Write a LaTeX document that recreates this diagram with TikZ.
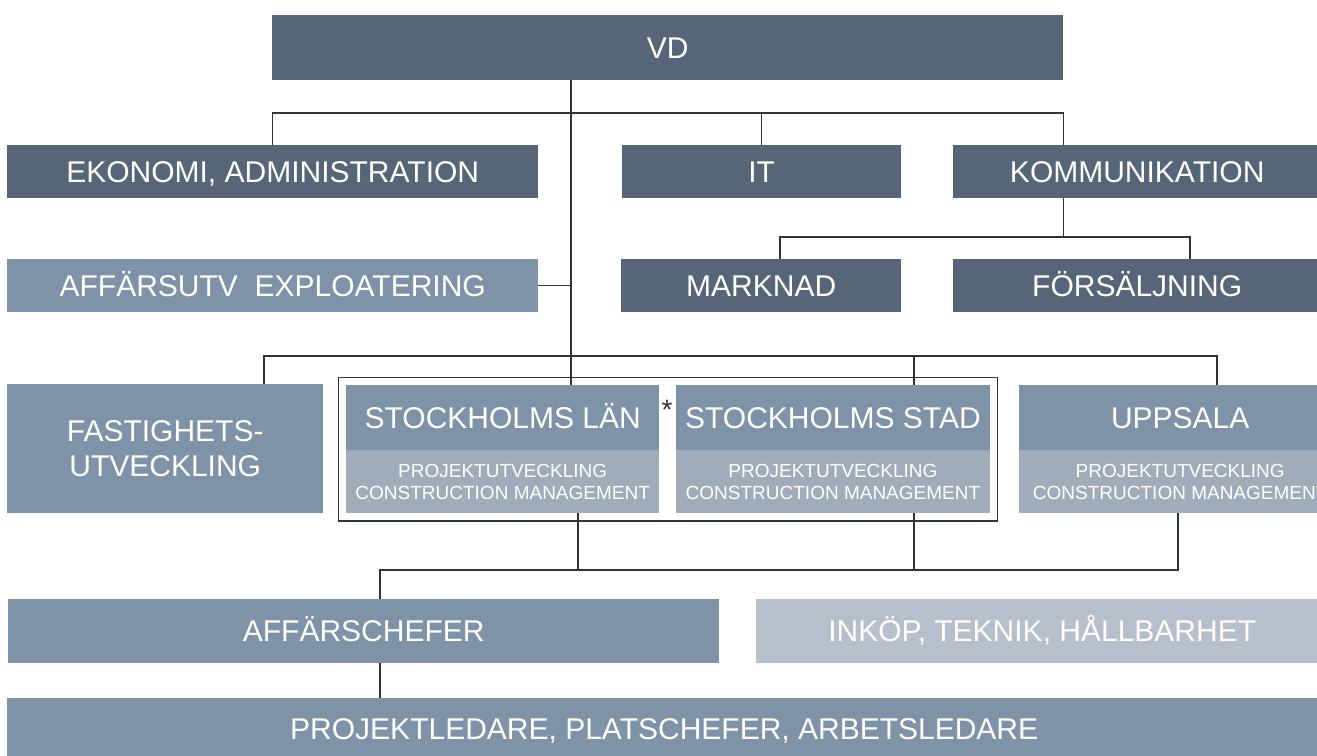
\documentclass[tikz,border=0pt]{standalone}
\usepackage{fontspec}
\setmainfont{Liberation Sans}
\usetikzlibrary{fit}

\definecolor{darkslate}{HTML}{566577}
\definecolor{midslate}{HTML}{7F93A8}
\definecolor{subslate}{HTML}{A1ACBB}
\definecolor{paleslate}{HTML}{B8BFCC}
\definecolor{linegray}{HTML}{333333}

\newcommand{\bigfont}{\fontsize{30}{35}\selectfont}
\newcommand{\smallfont}{\fontsize{19}{22}\selectfont}

\tikzset{
  box/.style={anchor=north west, inner sep=0pt, text=white, font=\bigfont},
  oneline/.style={text height=21.5pt, text depth=0pt},
  darkbox/.style={box, oneline, fill=darkslate},
  midbox/.style={box, oneline, fill=midslate},
  palebox/.style={box, oneline, fill=paleslate},
  subbox/.style={box, fill=subslate, font=\smallfont, align=center},
  link/.style={draw=linegray, line width=1.5pt}
}

\begin{document}
\begin{tikzpicture}[x=1pt,y=-1pt]
\useasboundingbox (0,0) rectangle (1317,755);
\clip (0,0) rectangle (1317,755);

% top rows
\node [darkbox, minimum width=791pt, minimum height=65pt] (vd) at (272,15) {VD};
\node [darkbox, minimum width=531pt, minimum height=53pt] (eko) at (7,145) {EKONOMI, ADMINISTRATION};
\node [darkbox, minimum width=279pt, minimum height=53pt] (it) at (622,145) {IT};
\node [darkbox, minimum width=368pt, minimum height=53pt] (komm) at (953,145) {KOMMUNIKATION};
\node [midbox, minimum width=531pt, minimum height=53pt] (affutv) at (7,259) {AFFÄRSUTV\ \ EXPLOATERING};
\node [darkbox, minimum width=280pt, minimum height=53pt] (marknad) at (621,259) {MARKNAD};
\node [darkbox, minimum width=368pt, minimum height=53pt] (fors) at (953,259) {FÖRSÄLJNING};

% regions
\node [box, fill=midslate, align=center, minimum width=316pt, minimum height=129pt] (fast) at (7,384) {FASTIGHETS-\\UTVECKLING};
\node [midbox, minimum width=313pt, minimum height=65pt] (lan) at (346,385) {STOCKHOLMS LÄN};
\node [subbox, minimum width=313pt, minimum height=63pt] (lansub) at (346,450) {PROJEKTUTVECKLING\\CONSTRUCTION MANAGEMENT};
\node [midbox, minimum width=313.5pt, minimum height=65pt] (stad) at (676,385) {STOCKHOLMS STAD};
\node [subbox, minimum width=313.5pt, minimum height=63pt] (stadsub) at (676,450) {PROJEKTUTVECKLING\\CONSTRUCTION MANAGEMENT};
\node [midbox, minimum width=322pt, minimum height=65pt] (upp) at (1019,385) {UPPSALA};
\node [subbox, minimum width=322pt, minimum height=63pt] (uppsub) at (1019,450) {PROJEKTUTVECKLING\\CONSTRUCTION MANAGEMENT};
\node [draw=linegray, line width=1.5pt, inner sep=7.5pt, fit=(lan)(stadsub)] (frame) {};
\node [text=linegray, font=\fontsize{28}{28}\selectfont, inner sep=0pt] (star) at (667,410) {*};

% bottom rows
\node [midbox, minimum width=711pt, minimum height=64pt] (affch) at (8,599) {AFFÄRSCHEFER};
\node [palebox, minimum width=572pt, minimum height=64pt] (inkop) at (756,599) {INKÖP, TEKNIK, HÅLLBARHET};
\node [midbox, minimum width=1314pt, minimum height=62pt] (projl) at (7,698) {PROJEKTLEDARE, PLATSCHEFER, ARBETSLEDARE};

\coordinate (trunk) at (571,0);
\coordinate (bus1) at (0,113);
\coordinate (mk) at (780,237);
\coordinate (fs) at (1190,237);
\coordinate (b2a) at (264,356);
\coordinate (b2b) at (1217,356);
\coordinate (b2c) at (914,356);
\coordinate (b3a) at (380,570);
\coordinate (b3b) at (1178,570);
\coordinate (l1) at (578,570);

\draw [link] (trunk |- vd.south) -- (trunk |- lan.north);
\draw [link] (eko.north) -- (eko.north |- bus1) -- (vd.south east |- bus1) -- (vd.south east |- komm.north);
\draw [link] (it.north) -- (it.north |- bus1);
\draw [link] (vd.south east |- komm.south) -- (vd.south east |- mk);
\draw [link] (mk |- marknad.north) -- (mk) -- (fs) -- (fs |- fors.north);
\draw [link] (affutv.east) -- (trunk |- affutv.east);
\draw [link] (b2a |- fast.north) -- (b2a) -- (b2b) -- (b2b |- upp.north);
\draw [link] (b2c) -- (b2c |- stad.north);
\draw [link] (b3a |- affch.north) -- (b3a) -- (b3b) -- (b3b |- uppsub.south);
\draw [link] (l1 |- lansub.south) -- (l1);
\draw [link] (b2c |- stadsub.south) -- (b2c |- b3a);
\draw [link] (b3a |- affch.south) -- (b3a |- projl.north);

\end{tikzpicture}
\end{document}
